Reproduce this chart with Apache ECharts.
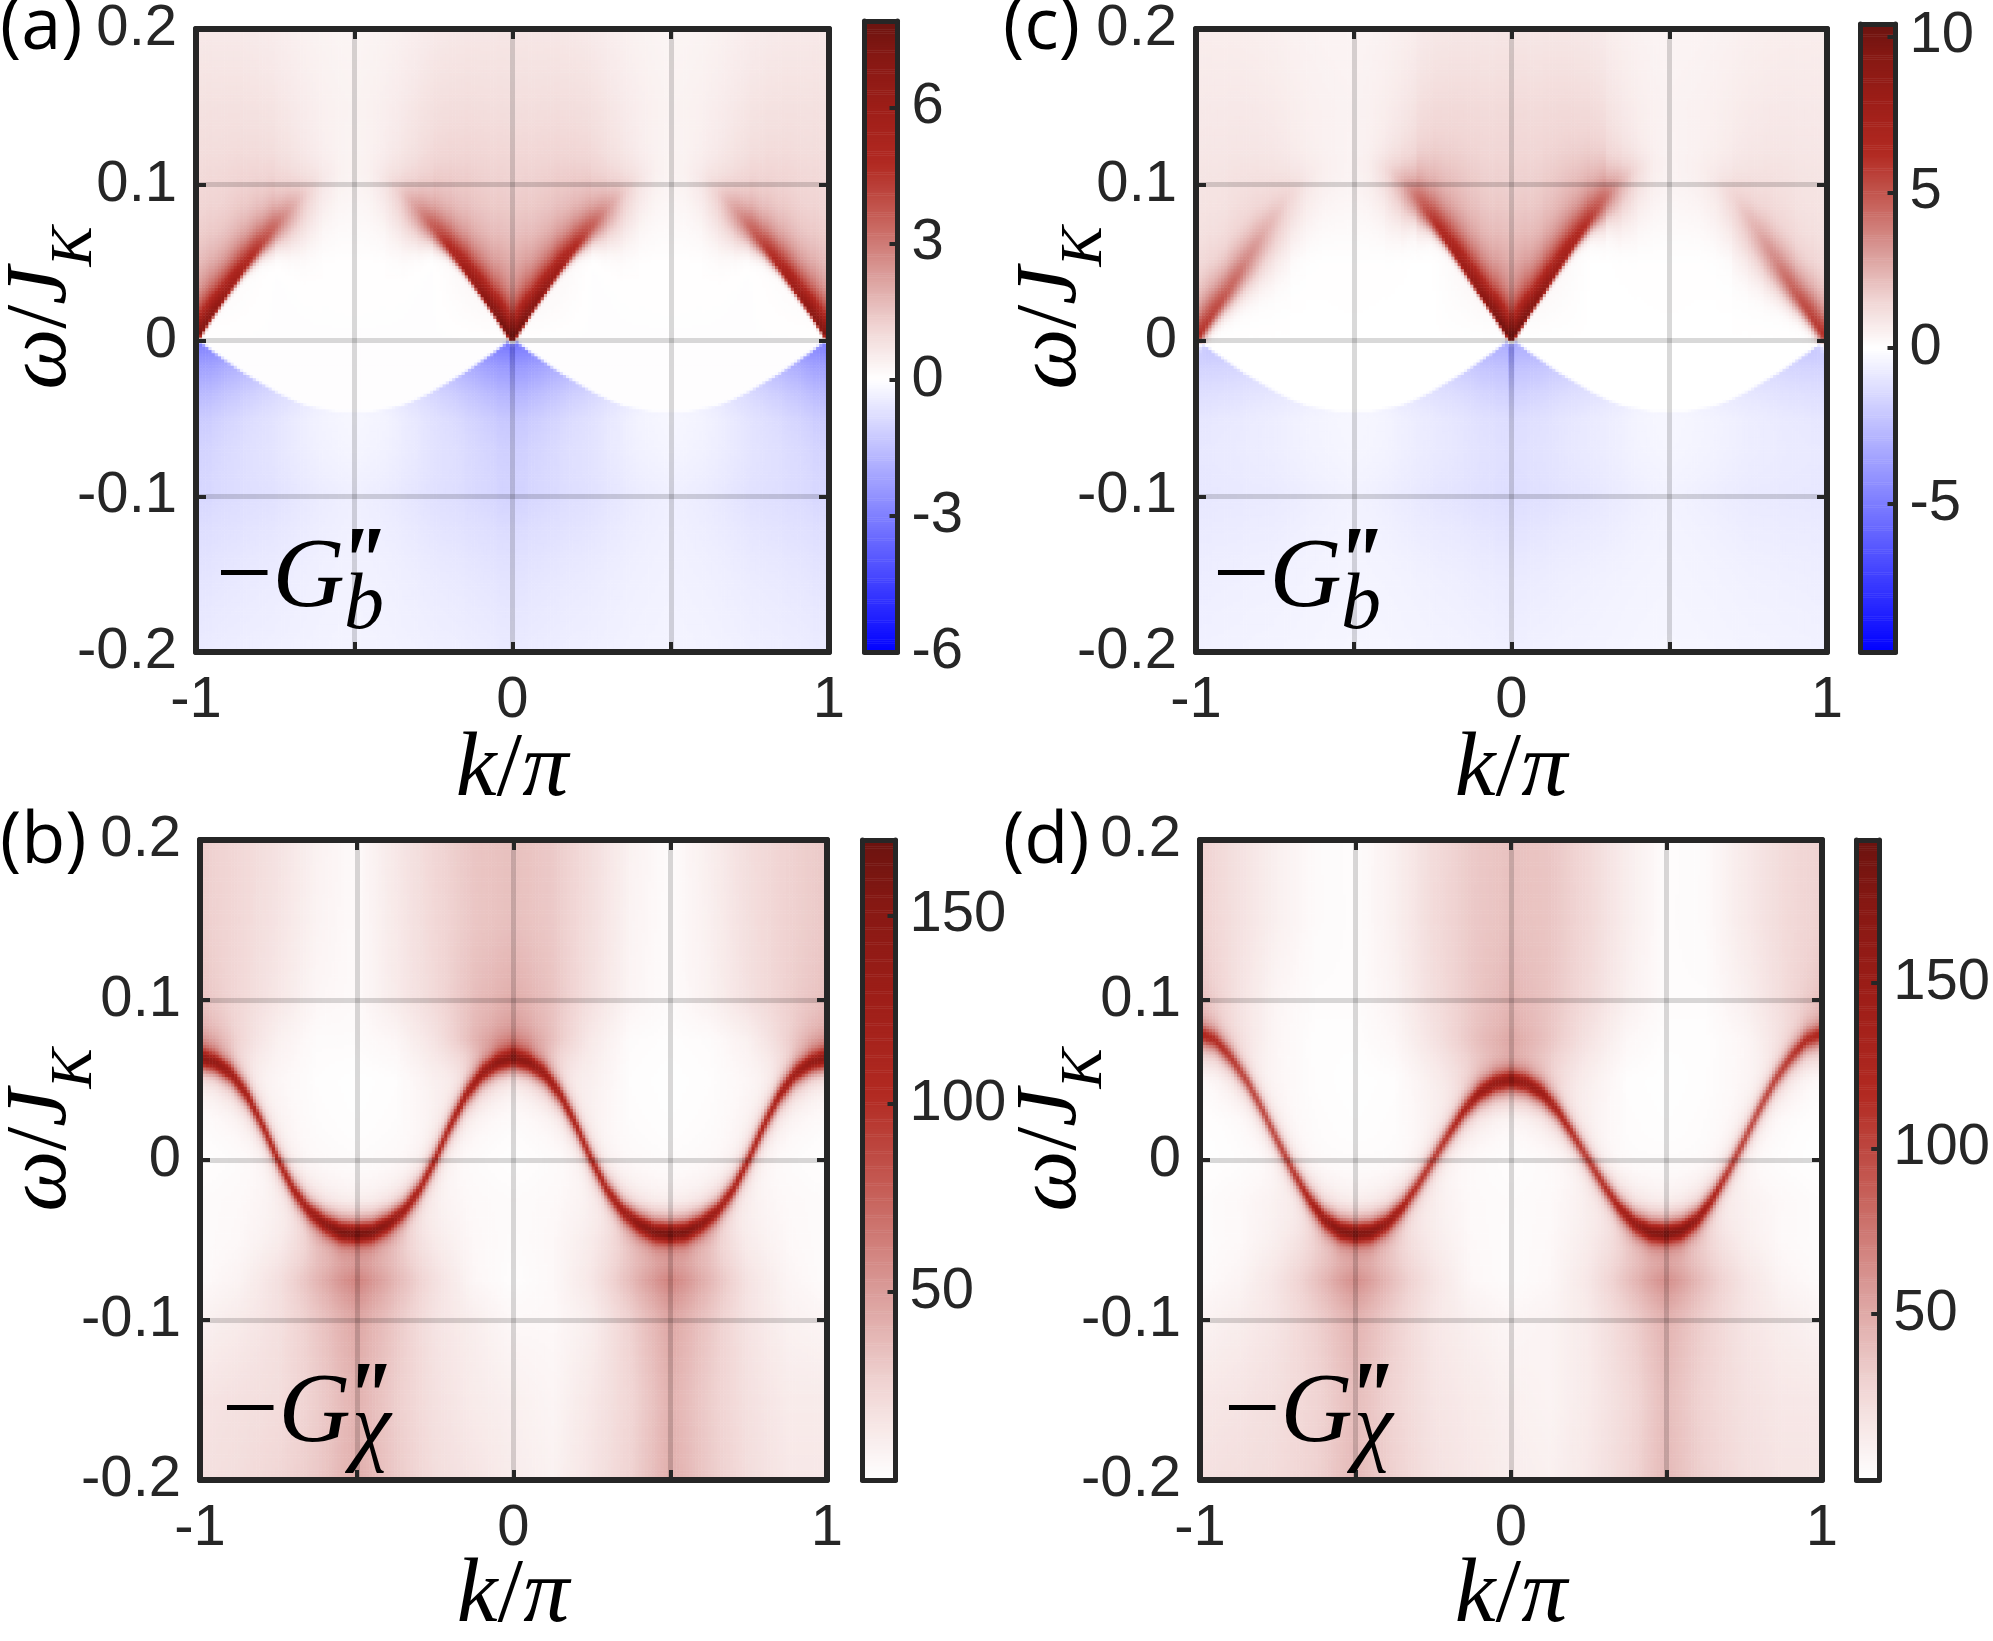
<!DOCTYPE html>
<html>
<head>
<meta charset="utf-8">
<script src="https://cdn.jsdelivr.net/npm/echarts@6/dist/echarts.min.js"></script>
<style>
  html, body { margin: 0; background: #fff; }
  #chart { width: 1993px; height: 1641px; }
</style>
</head>
<body>
<div id="chart"></div>
<script>
// ---- values ----
const kLine = [-1, -0.95, -0.9, -0.85, -0.8, -0.75, -0.7, -0.65, -0.6, -0.55, -0.5, -0.45, -0.4, -0.35, -0.3, -0.25, -0.2, -0.15, -0.1, -0.05, 0,
  0.05, 0.1, 0.15, 0.2, 0.25, 0.3, 0.35, 0.4, 0.45, 0.5, 0.55, 0.6, 0.65, 0.7, 0.75, 0.8, 0.85, 0.9, 0.95, 1];

// (a) -G''_b : upper continuum edge and its weight, lower edge and its weight
const upEdgeA = [0, .016, .031, .046, .060, .073, .084, .094, .103, .109, .111, .109, .103, .094, .084, .073, .060, .046, .031, .016, 0,
  .016, .031, .046, .060, .073, .084, .094, .103, .109, .111, .109, .103, .094, .084, .073, .060, .046, .031, .016, 0];
const upIntA = [7.5, 6.8, 6.0, 5.2, 4.2, 3.1, 1.9, 0.9, 0.3, 0.06, 0, 0.06, 0.35, 1.0, 2.1, 3.4, 4.6, 5.6, 6.4, 7.2, 7.9,
  7.2, 6.4, 5.6, 4.6, 3.4, 2.1, 1.0, 0.35, 0.06, 0, 0.06, 0.3, 0.9, 1.9, 3.1, 4.2, 5.2, 6.0, 6.8, 7.5];
const lowEdgeA = [0, -.008, -.015, -.022, -.028, -.034, -.039, -.043, -.045, -.047, -.047, -.047, -.045, -.043, -.039, -.034, -.028, -.022, -.015, -.008, 0,
  -.008, -.015, -.022, -.028, -.034, -.039, -.043, -.045, -.047, -.047, -.047, -.045, -.043, -.039, -.034, -.028, -.022, -.015, -.008, 0];
const lowIntA = [-3.1, -2.6, -2.0, -1.55, -1.2, -0.9, -0.65, -0.45, -0.32, -0.25, -0.2, -0.25, -0.32, -0.5, -0.7, -1.0, -1.3, -1.7, -2.2, -2.8, -3.3,
  -2.8, -2.2, -1.7, -1.3, -1.0, -0.7, -0.5, -0.32, -0.25, -0.2, -0.25, -0.32, -0.45, -0.65, -0.9, -1.2, -1.55, -2.0, -2.6, -3.1];

// (c) -G''_b
const upEdgeC = [0, .016, .031, .047, .063, .078, .092, .102, .110, .114, .115, .114, .110, .102, .092, .078, .063, .047, .031, .016, 0,
  .016, .031, .047, .063, .078, .092, .102, .110, .114, .115, .114, .110, .102, .092, .078, .063, .047, .031, .016, 0];
const upIntC = [6.2, 5.5, 4.7, 3.8, 2.8, 1.8, 1.0, 0.4, 0.12, 0.03, 0, 0.15, 0.7, 1.8, 3.6, 5.4, 6.6, 7.6, 8.5, 9.5, 10.4,
  9.5, 8.5, 7.6, 6.6, 5.4, 3.6, 1.8, 0.7, 0.15, 0, 0.03, 0.12, 0.4, 1.0, 1.8, 2.8, 3.8, 4.7, 5.5, 6.2];
const lowEdgeC = lowEdgeA;
const lowIntC = [-2.3, -2.0, -1.7, -1.4, -1.15, -0.95, -0.75, -0.6, -0.5, -0.4, -0.35, -0.4, -0.5, -0.7, -0.9, -1.15, -1.45, -1.8, -2.3, -2.8, -3.2,
  -2.8, -2.3, -1.8, -1.45, -1.15, -0.9, -0.7, -0.5, -0.4, -0.35, -0.4, -0.5, -0.6, -0.75, -0.95, -1.15, -1.4, -1.7, -2.0, -2.3];

// sharp negative tips just below omega = 0
const tipK = [-1, 0, 1];
const tipA = [-2.8, -2.9, -2.8];
const tipC = [-2.0, -6.7, -2.0];

// coarse background of (a),(c)
const bgKac = [-1, -0.75, -0.5, -0.25, 0, 0.25, 0.5, 0.75, 1];
const bgWac = [0.2, 0.15, 0.1, 0.05, 0, -0.05, -0.1, -0.15, -0.2];
const bgA = [
  [0.3, 0.35, 0.3, 0.4, 0.35, 0.4, 0.3, 0.35, 0.3],
  [0.4, 0.45, 0.35, 0.55, 0.45, 0.55, 0.35, 0.45, 0.4],
  [0.4, 0.45, 0.3, 0.55, 0.55, 0.55, 0.3, 0.45, 0.4],
  [0.3, 0, 0.03, 0, 0.6, 0, 0.03, 0, 0.3],
  [0, 0, 0, 0, 0, 0, 0, 0, 0],
  [0, 0, 0, 0, 0, 0, 0, 0, 0],
  [-0.4, -0.45, -0.3, -0.45, -0.45, -0.45, -0.3, -0.45, -0.4],
  [-0.35, -0.35, -0.28, -0.35, -0.35, -0.35, -0.28, -0.35, -0.35],
  [-0.3, -0.3, -0.25, -0.3, -0.3, -0.3, -0.25, -0.3, -0.3]
];
const bgC = [
  [0.4, 0.45, 0.4, 0.5, 0.5, 0.5, 0.4, 0.45, 0.4],
  [0.45, 0.55, 0.45, 0.7, 0.7, 0.7, 0.45, 0.55, 0.45],
  [0.45, 0.55, 0.4, 0.75, 0.75, 0.75, 0.4, 0.55, 0.45],
  [0.2, 0, 0.03, 0, 0.8, 0, 0.03, 0, 0.2],
  [0, 0, 0, 0, 0, 0, 0, 0, 0],
  [0, 0, 0, 0, 0, 0, 0, 0, 0],
  [-0.5, -0.55, -0.4, -0.65, -0.7, -0.65, -0.4, -0.55, -0.5],
  [-0.45, -0.45, -0.38, -0.45, -0.5, -0.45, -0.38, -0.45, -0.45],
  [-0.4, -0.4, -0.33, -0.4, -0.4, -0.4, -0.33, -0.4, -0.4]
];

// (b),(d) -G''_chi : band centre and peak height along k
const bandB = [.064, .061, .054, .041, .022, 0, -.019, -.032, -.040, -.045, -.046, -.045, -.040, -.032, -.019, 0, .022, .041, .054, .061, .064,
  .061, .054, .041, .022, 0, -.019, -.032, -.040, -.045, -.046, -.045, -.040, -.032, -.019, 0, .022, .041, .054, .061, .064];
const peakB = [125, 124, 118, 110, 104, 102, 106, 115, 130, 145, 150, 145, 130, 115, 106, 102, 104, 110, 118, 124, 125,
  124, 118, 110, 104, 102, 106, 115, 130, 145, 150, 145, 130, 115, 106, 102, 104, 110, 118, 124, 125];
const bandD = [.079, .075, .064, .050, .032, .012, -.007, -.024, -.037, -.044, -.046, -.045, -.040, -.030, -.016, 0, .016, .031, .042, .048, .050,
  .048, .042, .031, .016, 0, -.016, -.030, -.040, -.045, -.046, -.044, -.037, -.024, -.007, .012, .032, .050, .064, .075, .079];
const peakD = [100, 98, 96, 95, 95, 98, 104, 118, 140, 160, 168, 160, 140, 120, 108, 104, 108, 118, 130, 138, 140,
  138, 130, 118, 108, 104, 108, 120, 140, 160, 168, 160, 140, 118, 104, 98, 95, 95, 96, 98, 100];

// coarse background of (b),(d)
const bgKbd = [-1, -0.875, -0.75, -0.625, -0.5, -0.375, -0.25, -0.125, 0, 0.125, 0.25, 0.375, 0.5, 0.625, 0.75, 0.875, 1];
const bgWbd = [0.2, 0.15, 0.1, 0.075, 0.05, 0.025, 0, -0.025, -0.05, -0.075, -0.1, -0.15, -0.2];
const bgB = [
  [28, 23, 17, 8, 3, 14, 24, 32, 34, 30, 20, 8, 2, 10, 20, 26, 30],
  [28, 23, 16, 7, 3, 13, 23, 31, 34, 30, 19, 7, 2, 9, 19, 26, 30],
  [30, 22, 14, 5, 3, 12, 22, 34, 40, 32, 18, 6, 2, 8, 18, 26, 32],
  [34, 20, 8, 2, 2, 5, 16, 34, 42, 30, 12, 2, 1, 2, 8, 22, 34],
  [0, 6, 4, 1, 0, 1, 8, 8, 0, 8, 8, 1, 0, 1, 4, 6, 0],
  [0, 2, 4, 1, 0, 1, 5, 2, 0, 2, 5, 1, 0, 1, 4, 2, 0],
  [0, 1, 2, 1, 0, 1, 2, 1, 0, 1, 2, 1, 0, 1, 2, 1, 0],
  [2, 3, 6, 2, 0, 2, 6, 3, 2, 3, 6, 2, 0, 2, 6, 3, 2],
  [2, 4, 10, 22, 15, 22, 11, 4, 2, 4, 11, 22, 15, 22, 10, 4, 2],
  [3, 7, 18, 36, 56, 36, 18, 5, 1, 4, 14, 34, 56, 36, 16, 6, 2],
  [8, 12, 18, 30, 44, 30, 16, 10, 4, 4, 10, 26, 44, 30, 16, 8, 6],
  [16, 18, 20, 28, 40, 28, 18, 12, 9, 6, 14, 24, 40, 28, 18, 12, 12],
  [18, 20, 24, 30, 42, 30, 20, 16, 11, 8, 16, 26, 42, 30, 20, 14, 14]
];
const bgD = [
  [30, 20, 10, 3, 2, 10, 24, 34, 38, 36, 26, 12, 2, 3, 14, 24, 30],
  [30, 20, 10, 3, 2, 10, 24, 34, 38, 36, 26, 12, 2, 3, 14, 24, 30],
  [34, 18, 6, 2, 2, 8, 22, 34, 42, 36, 24, 10, 2, 2, 10, 22, 34],
  [22, 16, 5, 1, 1, 5, 18, 34, 44, 34, 18, 5, 1, 1, 5, 16, 22],
  [0, 6, 4, 1, 0, 1, 10, 20, 15, 20, 10, 1, 0, 1, 4, 6, 0],
  [0, 1, 3, 1, 0, 1, 6, 4, 0, 4, 6, 1, 0, 1, 3, 1, 0],
  [0, 1, 1, 0, 0, 0, 1, 1, 0, 1, 1, 0, 0, 0, 1, 1, 0],
  [2, 4, 8, 4, 0, 4, 8, 3, 2, 3, 8, 4, 0, 4, 8, 4, 2],
  [2, 4, 11, 22, 15, 22, 12, 4, 2, 4, 12, 22, 15, 22, 11, 4, 2],
  [3, 7, 18, 36, 58, 36, 18, 5, 2, 5, 16, 36, 58, 36, 18, 7, 3],
  [8, 12, 18, 30, 44, 30, 16, 10, 6, 8, 14, 28, 44, 30, 18, 12, 8],
  [16, 18, 22, 28, 40, 28, 18, 14, 10, 8, 14, 24, 40, 28, 20, 16, 16],
  [20, 22, 24, 30, 42, 30, 20, 16, 12, 10, 16, 26, 42, 30, 22, 18, 18]
];

// colour ranges and colorbar ticks
const rangeA = [-6, 7.9], rangeC = [-9.75, 10.4], rangeB = [0, 170], rangeD = [0, 193];
const barTicksA = [-6, -3, 0, 3, 6];
const barTicksC = [-5, 0, 5, 10];
const barTicksB = [50, 100, 150];
const barTicksD = [50, 100, 150];

// ---- helpers ----
const NK = 200, NW = 200, NBAR = 300;
const cellK = i => -1 + (i + 0.5) * 2 / NK;
const cellW = j => -0.2 + (j + 0.5) * 0.4 / NW;

const seg = (xs, x) => {
  let i = 0;
  while (i < xs.length - 2 && xs[i + 1] < x) i++;
  return i;
};
const lerp1 = (xs, ys, x) => {
  if (x <= xs[0]) return ys[0];
  if (x >= xs[xs.length - 1]) return ys[ys.length - 1];
  const i = seg(xs, x);
  return ys[i] + (x - xs[i]) / (xs[i + 1] - xs[i]) * (ys[i + 1] - ys[i]);
};
const slope1 = (xs, ys, x) => {
  const i = seg(xs, Math.min(Math.max(x, xs[0]), xs[xs.length - 1]));
  return (ys[i + 1] - ys[i]) / (xs[i + 1] - xs[i]);
};
const lerp2 = (ks, ws, table, k, w) => {
  const col = table.map(row => lerp1(ks, row, k)).reverse();
  return lerp1(ws.slice().reverse(), col, w);
};

const spinonValue = (p, k, w) => {
  let v = lerp2(bgKac, bgWac, p.bg, k, w);
  const e = lerp1(kLine, p.upEdge, k), fe = 1 / Math.hypot(1, 5 * slope1(kLine, p.upEdge, k));
  const l = lerp1(kLine, p.lowEdge, k), fl = 1 / Math.hypot(1, 5 * slope1(kLine, p.lowEdge, k));
  const iu = lerp1(kLine, p.upInt, k), il = lerp1(kLine, p.lowInt, k);
  const du = (w - e) * fe, dl = (l - w) * fl;
  // faint parts of the edge get a soft onset
  const su = 0.0015 + 0.03 * Math.pow(1 - iu / p.upMax, 3);
  const gu = du >= 0 ? 0.7 / (1 + (du / 0.009) ** 2) + 0.3 / (1 + du / 0.015) : Math.exp(-((du / su) ** 2));
  const gl = dl >= 0 ? 0.8 * Math.exp(-dl / 0.04) + 0.2 / (1 + dl / 0.04) : Math.exp(-((dl / 0.0015) ** 2));
  v += iu * gu + il * gl;
  if (w < 0) {
    tipK.forEach((k0, t) => { v += p.tip[t] * Math.exp(-Math.hypot(5 * (k - k0), w) / p.tipSize); });
  }
  return v;
};
const bandValue = (p, k, w) => {
  const d = (w - lerp1(kLine, p.band, k)) / 0.006;
  return lerp2(bgKbd, bgWbd, p.bg, k, w) + lerp1(kLine, p.peak, k) / (1 + d * d);
};

const redStops = [[0, '#ffffff'], [0.15, '#f0d4d3'], [0.3, '#d99a97'], [0.45, '#c65f58'], [0.6, '#b22a22'], [0.75, '#9e1e18'], [0.9, '#861813'], [1, '#6b130f']];
const rgb = h => [1, 3, 5].map(i => parseInt(h.slice(i, i + 2), 16));
const mix = (a, b, t) => {
  const A = rgb(a), B = rgb(b);
  return 'rgb(' + A.map((x, i) => Math.round(x + (B[i] - x) * t)).join(',') + ')';
};
const redAt = t => {
  let i = 0;
  while (i < redStops.length - 2 && redStops[i + 1][0] < t) i++;
  const [t0, c0] = redStops[i], [t1, c1] = redStops[i + 1];
  return mix(c0, c1, Math.min(1, Math.max(0, (t - t0) / (t1 - t0))));
};
const colorsFor = ([lo, hi]) => {
  const out = [];
  for (let i = 0; i <= 120; i++) {
    const v = lo + (hi - lo) * i / 120;
    out.push(v < 0 ? mix('#ffffff', '#0000ff', v / lo) : redAt(v / hi));
  }
  return out;
};

// ---- panels ----
const panels = [
  { name: '(a)', sub: 'b', kind: 'spinon', range: rangeA, barTicks: barTicksA,
    data: { upEdge: upEdgeA, upInt: upIntA, upMax: Math.max(...upIntA), lowEdge: lowEdgeA, lowInt: lowIntA, tip: tipA, tipSize: 0.013, bg: bgA },
    plot: [196, 21, 633, 631], bar: [864.5, 21, 33, 631], tag: [0, 28], kTitle: [512, 771], wTitle: [52, 308], inner: [216, 614] },
  { name: '(c)', sub: 'b', kind: 'spinon', range: rangeC, barTicks: barTicksC,
    data: { upEdge: upEdgeC, upInt: upIntC, upMax: Math.max(...upIntC), lowEdge: lowEdgeC, lowInt: lowIntC, tip: tipC, tipSize: 0.015, bg: bgC },
    plot: [1196, 24, 631, 628], bar: [1860.5, 24, 35, 628], tag: [1003, 28], kTitle: [1511, 771], wTitle: [1062, 308], inner: [1213, 614] },
  { name: '(b)', sub: 'χ', kind: 'band', range: rangeB, barTicks: barTicksB,
    data: { band: bandB, peak: peakB, bg: bgB },
    plot: [200, 840, 627, 640], bar: [862.5, 840, 33, 640], tag: [0, 842], kTitle: [513, 1597], wTitle: [52, 1130], inner: [222, 1449] },
  { name: '(d)', sub: 'χ', kind: 'band', range: rangeD, barTicks: barTicksD,
    data: { band: bandD, peak: peakD, bg: bgD },
    plot: [1200, 840, 622, 640], bar: [1856.5, 840, 33, 640], tag: [1003, 842], kTitle: [1511, 1597], wTitle: [1062, 1130], inner: [1224, 1449] }
];

const INK = '#262626';
const SANS = "'Liberation Sans', Arial, Helvetica, sans-serif";
const SERIF = "'Liberation Serif', 'DejaVu Serif', serif";
const catIdx = n => Array.from({ length: n }, (_, i) => i);

const option = { animation: false, backgroundColor: '#ffffff', grid: [], xAxis: [], yAxis: [], visualMap: [], series: [], graphic: [] };

const frame = (extra, width) => Object.assign({
  type: 'value', z: 6,
  axisLine: { show: true, onZero: false, lineStyle: { color: INK, width: width || 6 } },
  axisTick: { show: false },
  axisLabel: { show: false },
  splitLine: { show: false }
}, extra);
const ticksIn = { show: true, inside: true, length: 10, lineStyle: { color: INK, width: 4 } };
const gridLine = { show: true, lineStyle: { color: 'rgba(0,0,0,0.15)', width: 5 } };
const tickFont = { color: INK, fontSize: 58, fontFamily: SANS };

panels.forEach(p => {
  const g = option.grid.length;
  option.grid.push({ left: p.plot[0], top: p.plot[1], width: p.plot[2], height: p.plot[3] });
  option.grid.push({ left: p.bar[0], top: p.bar[1], width: p.bar[2], height: p.bar[3] });

  const xh = option.xAxis.length, yh = option.yAxis.length;
  option.xAxis.push({ type: 'category', gridIndex: g, data: catIdx(NK), show: false });
  option.yAxis.push({ type: 'category', gridIndex: g, data: catIdx(NW), show: false });
  option.xAxis.push(frame({ gridIndex: g, position: 'bottom', min: -1, max: 1, interval: 0.5,
    axisTick: ticksIn, splitLine: gridLine,
    axisLabel: Object.assign({ show: true, margin: 20, formatter: v => (Math.abs(v) === 0.5 ? '' : String(v)) }, tickFont) }));
  option.xAxis.push(frame({ gridIndex: g, position: 'top', min: -1, max: 1, interval: 0.5, axisTick: ticksIn }));
  option.yAxis.push(frame({ gridIndex: g, position: 'left', min: -0.2, max: 0.2, interval: 0.1,
    axisTick: ticksIn, splitLine: gridLine,
    axisLabel: Object.assign({ show: true, margin: 19, formatter: v => String(Number(v.toFixed(1))) }, tickFont) }));
  option.yAxis.push(frame({ gridIndex: g, position: 'right', min: -0.2, max: 0.2, interval: 0.1, axisTick: ticksIn }));

  // colorbar
  const xb = option.xAxis.length, yb = option.yAxis.length;
  option.xAxis.push({ type: 'category', gridIndex: g + 1, data: [0], show: false });
  option.yAxis.push({ type: 'category', gridIndex: g + 1, data: catIdx(NBAR), show: false });
  option.xAxis.push(frame({ gridIndex: g + 1, position: 'bottom', min: 0, max: 1 }, 5));
  option.xAxis.push(frame({ gridIndex: g + 1, position: 'top', min: 0, max: 1 }, 5));
  option.yAxis.push(frame({ gridIndex: g + 1, position: 'left', min: p.range[0], max: p.range[1] }, 5));
  option.yAxis.push(frame({ gridIndex: g + 1, position: 'right', min: p.range[0], max: p.range[1],
    axisTick: { show: true, inside: true, length: 8, lineStyle: { color: INK, width: 4 }, customValues: p.barTicks },
    axisLabel: Object.assign({ show: true, margin: 14, customValues: p.barTicks, formatter: v => String(v) }, tickFont) }, 5));

  const cells = [];
  for (let i = 0; i < NK; i++) {
    for (let j = 0; j < NW; j++) {
      const raw = p.kind === 'spinon' ? spinonValue(p.data, cellK(i), cellW(j)) : bandValue(p.data, cellK(i), cellW(j));
      cells.push([i, j, Math.max(p.range[0], Math.min(p.range[1], raw))]);
    }
  }
  const barCells = catIdx(NBAR).map(i => [0, i, p.range[0] + (i + 0.5) * (p.range[1] - p.range[0]) / NBAR]);

  const s = option.series.length;
  option.series.push({ type: 'heatmap', xAxisIndex: xh, yAxisIndex: yh, data: cells, progressive: 0, silent: true, emphasis: { disabled: true } });
  option.series.push({ type: 'heatmap', xAxisIndex: xb, yAxisIndex: yb, data: barCells, progressive: 0, silent: true, emphasis: { disabled: true } });
  option.visualMap.push({ type: 'continuous', show: false, seriesIndex: [s, s + 1], dimension: 2,
    min: p.range[0], max: p.range[1], inRange: { color: colorsFor(p.range) } });

  // texts
  option.graphic.push({ type: 'text', x: p.tag[0], y: p.tag[1], z: 10,
    style: { text: p.name, fill: '#000', fontSize: 72, fontFamily: "'Open Sans', Lato, sans-serif", align: 'left', verticalAlign: 'middle' } });
  option.graphic.push({ type: 'text', x: p.kTitle[0], y: p.kTitle[1], z: 10,
    style: { text: '{i|k}{n|/}{i|π}', align: 'center', verticalAlign: 'middle',
      rich: { i: { fontFamily: SERIF, fontStyle: 'italic', fontSize: 92, fill: '#000' }, n: { fontFamily: SERIF, fontSize: 92, fill: '#000' } } } });
  option.graphic.push({ type: 'text', x: p.wTitle[0], y: p.wTitle[1], rotation: Math.PI / 2, z: 10,
    style: { text: '{i|ω}{n|/}{i|J}{s|K}', align: 'center', verticalAlign: 'middle',
      rich: {
        i: { fontFamily: SERIF, fontStyle: 'italic', fontSize: 86, fill: '#000', verticalAlign: 'bottom', padding: [0, 0, 20, 0] },
        n: { fontFamily: SERIF, fontSize: 86, fill: '#000', verticalAlign: 'bottom', padding: [0, 0, 20, 0] },
        s: { fontFamily: SERIF, fontStyle: 'italic', fontSize: 60, fill: '#000', verticalAlign: 'bottom' }
      } } });
  const [ix, iy] = p.inner;
  option.graphic.push({ type: 'text', x: ix, y: iy - 34, z: 10,
    style: { text: '{n|−}{i|G}', align: 'left', verticalAlign: 'middle',
      rich: { n: { fontFamily: SERIF, fontSize: 100, fill: '#000' }, i: { fontFamily: SERIF, fontStyle: 'italic', fontSize: 100, fill: '#000' } } } });
  // the two primes of G''
  [0, 17].forEach(dx => option.graphic.push({ type: 'text', x: ix + 122 + dx, y: iy - 96, z: 10,
    style: { text: "'", fill: '#000', fontSize: 100, fontWeight: 'bold', fontStyle: 'italic', fontFamily: SERIF, align: 'left', verticalAlign: 'top' } }));
  option.graphic.push({ type: 'text', x: p.sub === 'b' ? ix + 128 : ix + 130, y: p.sub === 'b' ? iy - 7 : iy - 18, z: 10,
    style: { text: p.sub, fill: '#000', fontSize: p.sub === 'b' ? 80 : 88, fontFamily: SERIF, fontStyle: 'italic', align: 'left', verticalAlign: 'middle' } });
});

const chart = echarts.init(document.getElementById('chart'), null, { renderer: 'canvas' });
chart.setOption(option);
</script>
</body>
</html>
